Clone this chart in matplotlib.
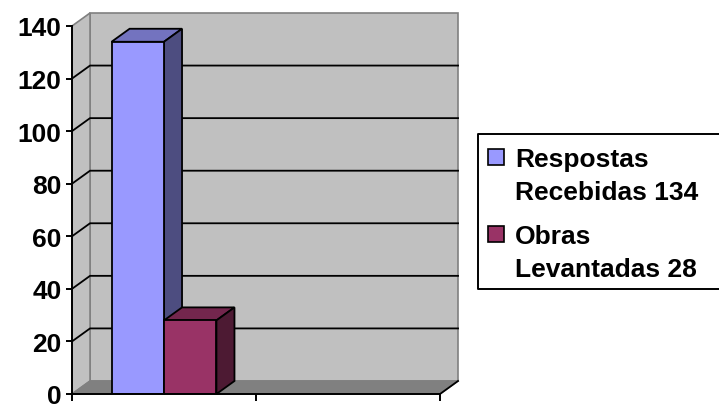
import matplotlib
matplotlib.use("Agg")
from matplotlib import pyplot as plt
from matplotlib.patches import Polygon, Rectangle
from matplotlib.lines import Line2D

plt.rcParams['font.family'] = ['Liberation Sans', 'DejaVu Sans']

# data
series_names = ['Respostas\nRecebidas 134', 'Obras\nLevantadas 28']
series_values = [134, 28]
front_colors = ['#9999FF', '#993366']
top_colors = ['#7373BF', '#73264D']
side_colors = ['#4D4D80', '#4D1A33']
y_ticks = [0, 20, 40, 60, 80, 100, 120, 140]
x_ticks = [0, 1, 2]

W, H = 719, 406
fig = plt.figure(figsize=(W / 100, H / 100), dpi=100)

def fx(x):
    return x / W

def fy(y):
    return 1 - y / H

# axes box: front plane from x=72..440 px, y=395..27 px
ax = fig.add_axes([fx(72), fy(395), (440 - 72) / W, (395 - 27) / H])
ax.set_xlim(0, 2)
ax.set_ylim(0, 140)
ax.patch.set_visible(False)

# depth offset of the 3d box in data units
DX, DY = 0.098, 4.95
ymax = y_ticks[-1]

# back wall
ax.add_patch(Polygon([(DX, DY), (2 + DX, DY), (2 + DX, ymax + DY), (DX, ymax + DY)],
                     closed=True, facecolor='#C0C0C0', edgecolor='#808080', lw=1.2,
                     zorder=0.5, clip_on=False))
# left wall
ax.add_patch(Polygon([(0, 0), (DX, DY), (DX, ymax + DY), (0, ymax)],
                     closed=True, facecolor='#C0C0C0', edgecolor='#808080', lw=1.2,
                     zorder=0.6, clip_on=False))
# floor
ax.add_patch(Polygon([(0, 0), (2, 0), (2 + DX, DY), (DX, DY)],
                     closed=True, facecolor='#808080', edgecolor='#808080', lw=1,
                     zorder=0.7, clip_on=False))
ax.plot([2, 2 + DX], [0, DY], color='black', lw=1.3, zorder=0.8, clip_on=False)

# gridlines on back and left walls
for v in y_ticks[1:-1]:
    ax.plot([0, DX, 2 + DX], [v, v + DY, v + DY], color='black', lw=1.3,
            zorder=1, clip_on=False)

# bars, one category with two series
bw = 0.285
centers = [0.5 - bw / 2, 0.5 + bw / 2]
for i, (c, v) in enumerate(zip(centers, series_values)):
    z = 3 + i
    bar = ax.bar(c, v, width=bw, color=front_colors[i], edgecolor='black',
                 lw=1.3, zorder=z)[0]
    x0 = bar.get_x()
    x1 = x0 + bar.get_width()
    h = bar.get_height()
    ax.add_patch(Polygon([(x0, h), (x1, h), (x1 + DX, h + DY), (x0 + DX, h + DY)],
                         closed=True, facecolor=top_colors[i], edgecolor='black',
                         lw=1.3, zorder=z - 0.1, clip_on=False))
    ax.add_patch(Polygon([(x1, 0), (x1 + DX, DY), (x1 + DX, h + DY), (x1, h)],
                         closed=True, facecolor=side_colors[i], edgecolor='black',
                         lw=1.3, zorder=z - 0.1, clip_on=False))

# axes
for s in ['top', 'right']:
    ax.spines[s].set_visible(False)
for s in ['left', 'bottom']:
    ax.spines[s].set_linewidth(1.4)
    ax.spines[s].set_zorder(6)
ax.set_yticks(y_ticks)
ax.set_yticklabels([str(t) for t in y_ticks], fontsize=19, fontweight='bold')
ax.set_xticks(x_ticks)
ax.set_xticklabels([])
ax.tick_params(axis='y', direction='out', length=4.5, width=1.4, pad=3)
ax.tick_params(axis='x', direction='out', length=5, width=1.4)

# legend drawn by hand, box runs off the right edge like the original
fig.patches.append(Rectangle((fx(478), fy(290)), 1 - fx(478), fy(135) - fy(290),
                             transform=fig.transFigure, facecolor='white',
                             edgecolor='none'))
fig.lines.append(Line2D([1.0, fx(478), fx(478), 1.0], [fy(135), fy(135), fy(290), fy(290)],
                        transform=fig.transFigure, color='black', lw=1.4))
entry_tops = [150, 227]
for i, name in enumerate(series_names):
    top = entry_tops[i]
    fig.patches.append(Rectangle((fx(488), fy(top + 16)), 16 / W, 16 / H,
                                 transform=fig.transFigure, facecolor=front_colors[i],
                                 edgecolor='black', lw=1.2))
    first, second = name.split('\n')
    fig.text(fx(515), fy(top + 17), first, fontsize=19, fontweight='bold',
             va='baseline', ha='left')
    fig.text(fx(515), fy(top + 50), second, fontsize=19, fontweight='bold',
             va='baseline', ha='left')

fig.savefig('out.png', dpi=100)
